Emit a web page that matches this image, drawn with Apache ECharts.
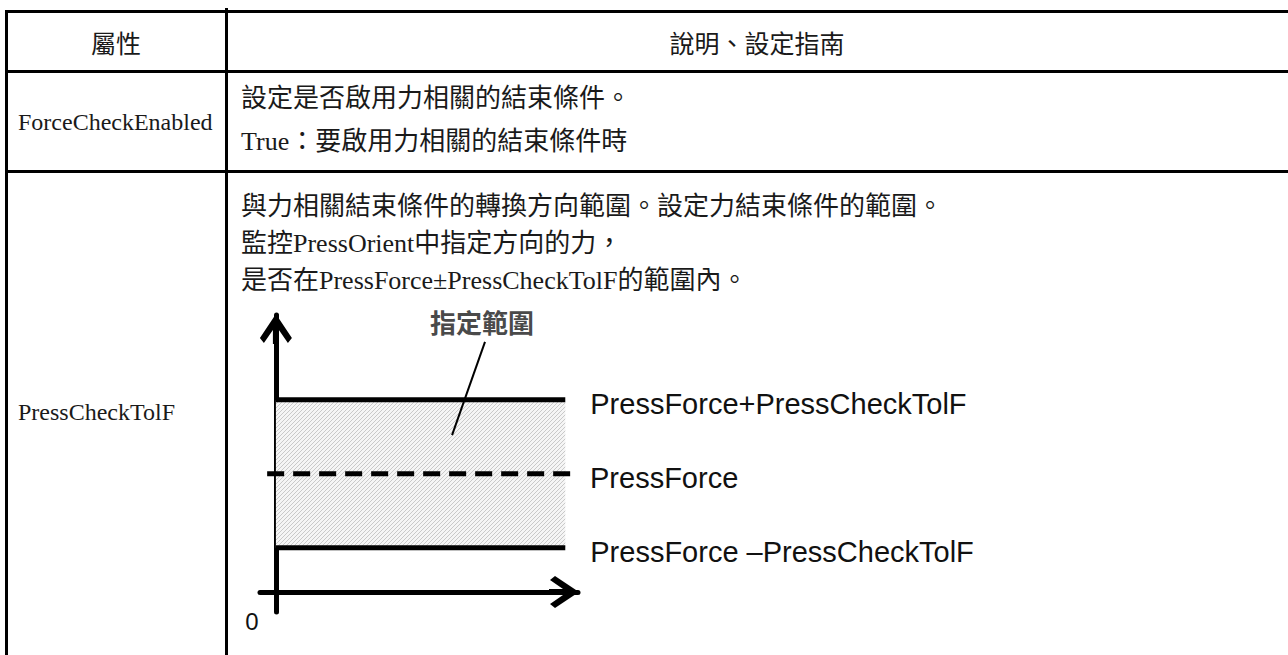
<!DOCTYPE html>
<html>
<head>
<meta charset="utf-8">
<script src="https://cdn.jsdelivr.net/npm/echarts@6/dist/echarts.min.js"></script>
<style>
html,body{margin:0;padding:0;background:#fff;}
#main{width:1288px;height:655px;}
</style>
</head>
<body>
<div id="main"></div>
<script>
// ---- table content ----
const tableHeaders = ['屬性', '說明、設定指南'];
const rowProps = ['ForceCheckEnabled', 'PressCheckTolF'];
const rowDesc1 = ['設定是否啟用力相關的結束條件。', 'True：要啟用力相關的結束條件時'];
const rowDesc2 = ['與力相關結束條件的轉換方向範圍。設定力結束條件的範圍。', '監控PressOrient中指定方向的力，', '是否在PressForce±PressCheckTolF的範圍內。'];

// ---- diagram data ----
const pressForce = 8;
const pressCheckTolF = 5;
const levelNames = ['PressForce+PressCheckTolF', 'PressForce', 'PressForce –PressCheckTolF'];
const levelValues = [pressForce + pressCheckTolF, pressForce, pressForce - pressCheckTolF];
const levelXStart = [0, -0.55, 0];
const levelXEnd = [18.2, 19, 18.2];
const bandLabel = '指定範圍';
const originLabel = '0';
const leaderFrom = [13.15, 16.9];
const leaderTo = [11.08, 10.6];

const chart = echarts.init(document.getElementById('main'), null, {renderer: 'svg', width: 1288, height: 655});

// hatch pattern
const pc = document.createElement('canvas');
pc.width = 4; pc.height = 4;
const ctx = pc.getContext('2d');
ctx.fillStyle = '#f5f5f5'; ctx.fillRect(0, 0, 4, 4);
ctx.strokeStyle = '#c9c9c9'; ctx.lineWidth = 1;
ctx.beginPath();
ctx.moveTo(0, 4); ctx.lineTo(4, 0);
ctx.moveTo(-1, 1); ctx.lineTo(1, -1);
ctx.moveTo(3, 5); ctx.lineTo(5, 3);
ctx.stroke();

const arrowPath = 'path://M16 0 L32 24 L28 29 L19 16 L19 30 L13 30 L13 16 L4 29 L0 24 Z';

const CJK = '"Liberation Serif", "Noto Sans CJK TC", serif';
const textColor = '#1a1a1a';

const graphics = [];
function hline(x1, x2, y) {
  graphics.push({type: 'line', shape: {x1: x1, y1: y, x2: x2, y2: y}, style: {stroke: '#000', lineWidth: 3}, silent: true});
}
function vline(x, y1, y2) {
  graphics.push({type: 'line', shape: {x1: x, y1: y1, x2: x, y2: y2}, style: {stroke: '#000', lineWidth: 3}, silent: true});
}
hline(5, 1288, 11.5);
hline(5, 1288, 71.5);
hline(5, 1288, 171.5);
vline(6.5, 10, 655);
vline(226.5, 8, 655);

function txt(s, x, y, align, size, font) {
  graphics.push({type: 'text', x: x, y: y, style: {text: s, fill: textColor, font: size + 'px ' + (font || CJK), textAlign: align, textVerticalAlign: 'middle'}, silent: true});
}
txt(tableHeaders[0], 116, 42, 'center', 25, '"Noto Sans CJK TC", sans-serif');
txt(tableHeaders[1], 757, 42, 'center', 25, '"Noto Sans CJK TC", sans-serif');
txt(rowProps[0], 18, 122, 'left', 24);
txt(rowProps[1], 18, 412, 'left', 24);
txt(rowDesc1[0], 241, 98, 'left', 26);
txt(rowDesc1[1], 241, 141, 'left', 26);
rowDesc2.forEach((s, i) => txt(s, 241, 206 + i * 37, 'left', 26));

graphics.push({type: 'text', x: 482, y: 321, style: {text: bandLabel, fill: '#4a4a4a', font: 'bold 26px "Noto Sans CJK TC", sans-serif', textAlign: 'center', textVerticalAlign: 'middle'}, silent: true});
graphics.push({type: 'text', x: 252, y: 621, style: {text: originLabel, fill: '#111', font: '24px "Liberation Sans", Arial, sans-serif', textAlign: 'center', textVerticalAlign: 'middle'}, silent: true});

const labelDist = [25, 12, 25];
const series = levelValues.map((v, i) => ({
  type: 'line',
  name: levelNames[i],
  data: [[levelXStart[i], v], [levelXEnd[i], v]],
  showSymbol: false,
  clip: false,
  z: 5,
  lineStyle: {color: '#000', width: 5, type: i === 1 ? [17, 9] : 'solid', cap: 'butt'},
  itemStyle: {color: '#000'},
  endLabel: {show: true, formatter: levelNames[i], distance: labelDist[i], offset: [0, 4], color: '#111', fontSize: 29, fontFamily: '"Liberation Sans", Arial, sans-serif'},
  silent: true
}));
series[0].markArea = {
  silent: true,
  z: 1,
  itemStyle: {color: {image: pc, repeat: 'repeat'}},
  data: [[{coord: [levelXStart[0], levelValues[2]]}, {coord: [levelXEnd[0], levelValues[0]]}]]
};
series[0].markLine = {
  silent: true,
  symbol: 'none',
  label: {show: false},
  lineStyle: {color: '#000', width: 2, type: 'solid'},
  data: [[{coord: leaderFrom}, {coord: leaderTo}]]
};

chart.setOption({
  animation: false,
  backgroundColor: '#fff',
  grid: {left: 260, top: 315, width: 318, height: 297, containLabel: false},
  xAxis: {
    type: 'value', min: -1, max: 19,
    axisLine: {onZero: true, lineStyle: {color: '#000', width: 5}, symbol: ['none', arrowPath], symbolSize: [34, 30], symbolOffset: [0, -14]},
    axisTick: {show: false}, axisLabel: {show: false}, splitLine: {show: false}
  },
  yAxis: {
    type: 'value', min: -1.35, max: 18.72,
    axisLine: {show: true, onZero: true, lineStyle: {color: '#000', width: 5}, symbol: ['none', arrowPath], symbolSize: [34, 30], symbolOffset: [0, -14]},
    axisTick: {show: false}, axisLabel: {show: false}, splitLine: {show: false}
  },
  series: series,
  graphic: graphics
});
</script>
</body>
</html>
